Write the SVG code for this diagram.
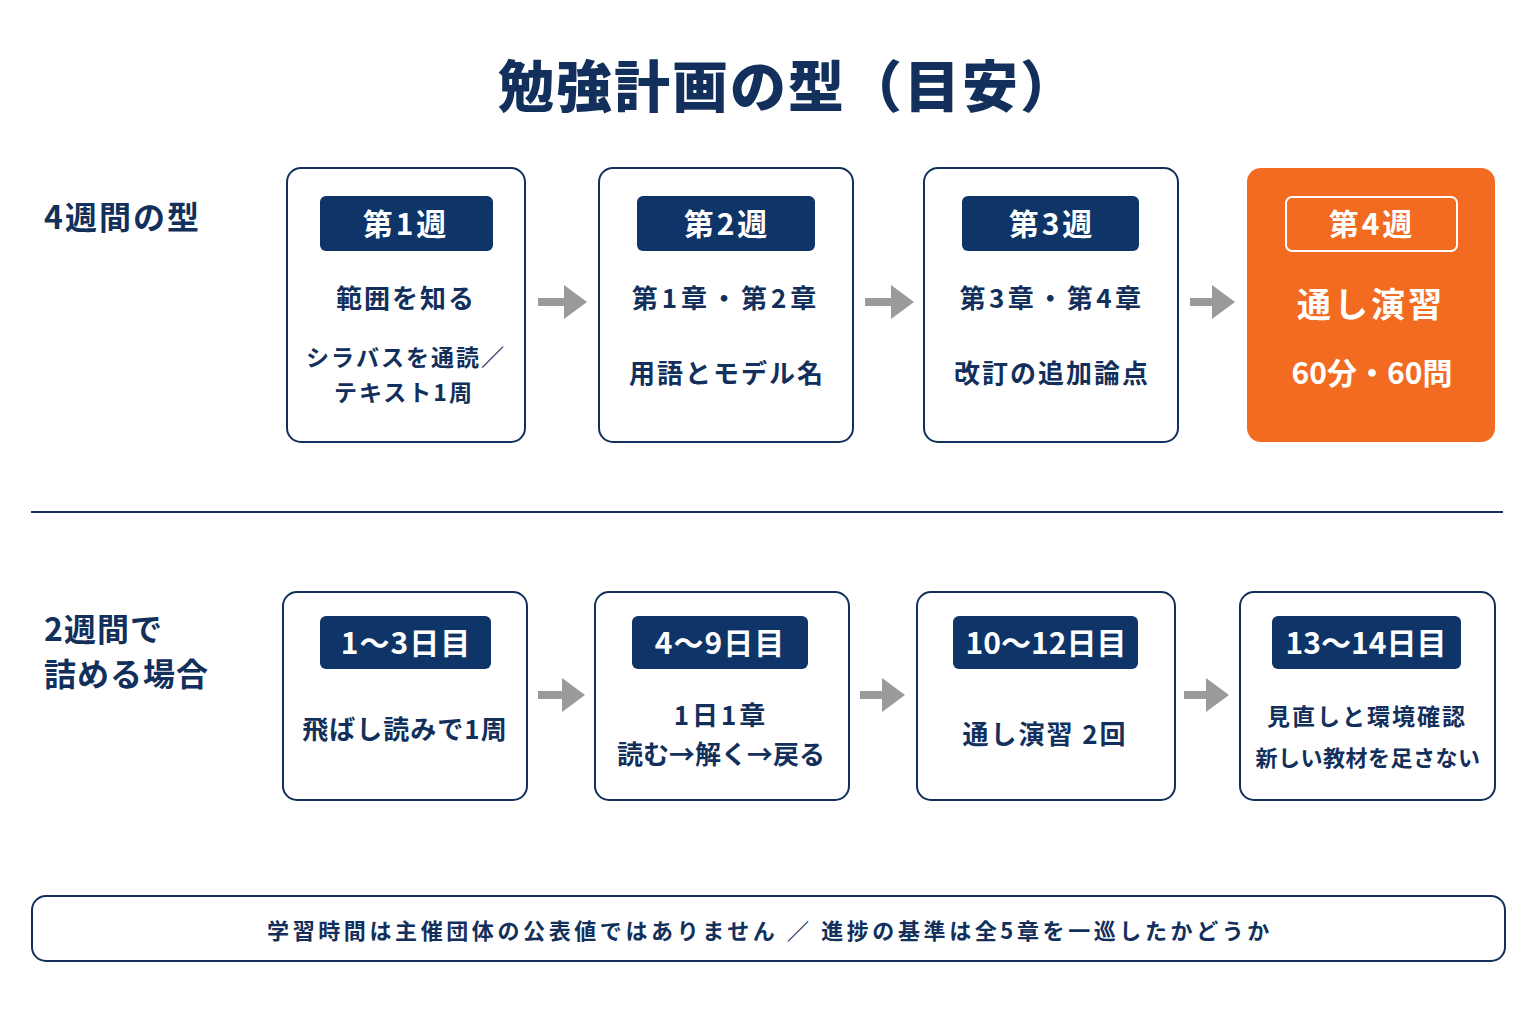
<svg xmlns="http://www.w3.org/2000/svg" width="1536" height="1024" viewBox="0 0 1536 1024">
<defs>
<style>
text{font-family:"Noto Sans CJK JP","Noto Sans",sans-serif;font-weight:700;fill:#13305c;text-anchor:middle;dominant-baseline:central}
.box{fill:#fff;stroke:#13305c;stroke-width:2}
.badge{fill:#0f3467}
.bt{fill:#fff;font-size:30px;letter-spacing:3px}
.t1{font-size:26px;letter-spacing:2px}
.t2{font-size:23px;letter-spacing:2px}
.lbl{text-anchor:start;font-size:32px;letter-spacing:1px}
.arr{fill:#9a9a9a}
</style>
</defs>
<rect width="1536" height="1024" fill="#fff"/>
<text id="title" x="788" y="82" style="font-size:56px;font-weight:900;letter-spacing:2px">勉強計画の型（目安）</text>

<text class="lbl" x="44" y="215" style="letter-spacing:2px">4週間の型</text>
<text class="lbl" x="44" y="627">2週間で</text>
<text class="lbl" x="44" y="672">詰める場合</text>

<line x1="31" y1="512" x2="1503" y2="512" stroke="#13305c" stroke-width="2"/>

<g id="connectors">
<g class="arr">
<path d="M538 298h26v-13l23 17l-23 17v-13h-26z"/>
<path d="M865 298h26v-13l23 17l-23 17v-13h-26z"/>
<path d="M1190 298h22v-13l23 17l-23 17v-13h-22z"/>
<path d="M538 691h24v-13l23 17l-23 17v-13h-24z"/>
<path d="M860 691h22v-13l23 17l-23 17v-13h-22z"/>
<path d="M1184 691h22v-13l23 17l-23 17v-13h-22z"/>
</g>
</g>

<g id="w1">
<rect class="box" x="287" y="168" width="238" height="274" rx="14"/>
<rect class="badge" x="320" y="196" width="173" height="55" rx="6"/>
<text class="bt" x="406" y="222">第1週</text>
<text class="t1" x="406" y="296">範囲を知る</text>
<text class="t2" x="406" y="356">シラバスを通読／</text>
<text class="t2" x="404" y="391">テキスト1周</text>
</g>
<g id="w2">
<rect class="box" x="599" y="168" width="254" height="274" rx="14"/>
<rect class="badge" x="637" y="196" width="178" height="55" rx="6"/>
<text class="bt" x="727" y="222">第2週</text>
<text class="t1" x="726" y="296" style="letter-spacing:4px">第1章・第2章</text>
<text class="t1" x="727" y="371">用語とモデル名</text>
</g>
<g id="w3">
<rect class="box" x="924" y="168" width="254" height="274" rx="14"/>
<rect class="badge" x="962" y="196" width="177" height="55" rx="6"/>
<text class="bt" x="1052" y="222">第3週</text>
<text class="t1" x="1052" y="296" style="letter-spacing:3.5px">第3章・第4章</text>
<text class="t1" x="1052" y="371">改訂の追加論点</text>
</g>
<g id="w4">
<rect x="1247" y="168" width="248" height="274" rx="14" fill="#f26b21"/>
<rect x="1286" y="197" width="171" height="54" rx="6" fill="none" stroke="#fff" stroke-width="2"/>
<text class="bt" x="1372" y="222">第4週</text>
<text x="1371" y="302" style="fill:#fff;font-size:34px;letter-spacing:3px">通し演習</text>
<text x="1372" y="371" style="fill:#fff;font-size:30px;letter-spacing:0px">60分・60問</text>
</g>

<g id="d1">
<rect class="box" x="283" y="592" width="244" height="208" rx="14"/>
<rect class="badge" x="320" y="616" width="171" height="53" rx="6"/>
<text class="bt" x="406" y="641" style="letter-spacing:1px">1～3日目</text>
<text class="t1" x="405" y="727" style="letter-spacing:1px">飛ばし読みで1周</text>
</g>
<g id="d2">
<rect class="box" x="595" y="592" width="254" height="208" rx="14"/>
<rect class="badge" x="632" y="616" width="176" height="53" rx="6"/>
<text class="bt" x="720" y="641" style="letter-spacing:1px">4～9日目</text>
<text class="t1" x="721" y="713" style="letter-spacing:3px">1日1章</text>
<text class="t1" x="721" y="752" style="letter-spacing:0px">読む→解く→戻る</text>
</g>
<g id="d3">
<rect class="box" x="917" y="592" width="258" height="208" rx="14"/>
<rect class="badge" x="953" y="616" width="185" height="53" rx="6"/>
<text class="bt" x="1046" y="641" style="letter-spacing:0">10～12日目</text>
<text class="t1" x="1045" y="732">通し演習 2回</text>
</g>
<g id="d4">
<rect class="box" x="1240" y="592" width="255" height="208" rx="14"/>
<rect class="badge" x="1272" y="616" width="189" height="53" rx="6"/>
<text class="bt" x="1366" y="641" style="letter-spacing:0">13～14日目</text>
<text class="t2" x="1367" y="715">見直しと環境確認</text>
<text class="t2" x="1368" y="756" style="font-size:22px;letter-spacing:0.5px">新しい教材を足さない</text>
</g>

<g id="note">
<rect class="box" x="32" y="896" width="1473" height="65" rx="14"/>
<text x="770" y="929" style="font-size:22px;letter-spacing:3.6px">学習時間は主催団体の公表値ではありません ／ 進捗の基準は全5章を一巡したかどうか</text>
</g>
</svg>
